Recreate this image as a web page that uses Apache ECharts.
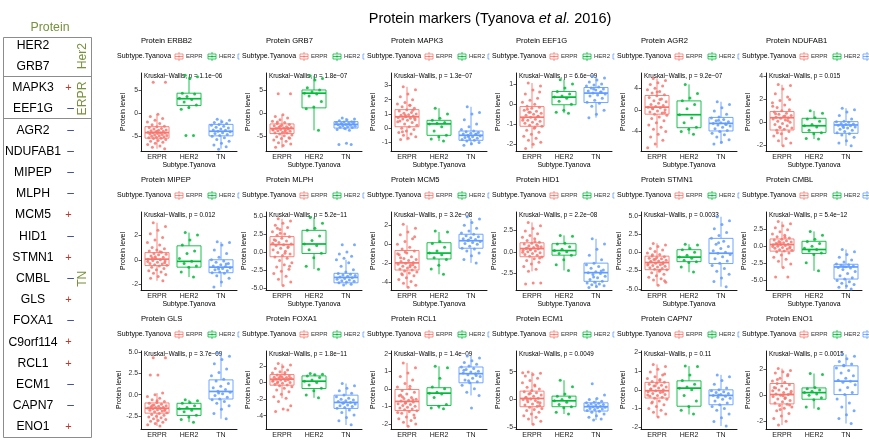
<!DOCTYPE html>
<html>
<head>
<meta charset="utf-8">
<script src="https://cdn.jsdelivr.net/npm/echarts@6/dist/echarts.min.js"></script>
<style>
  html, body { margin: 0; background: #fff; }
  #chart { width: 869px; height: 440px; }
</style>
</head>
<body>
<div id="chart"></div>
<script>
// subtypes and colours (ggplot defaults)
const subtypes = ['ERPR', 'HER2', 'TN']
const subtypeColors = ['#F8766D', '#00BA38', '#619CFF']

// panels, row by row
const proteins = ['ERBB2', 'GRB7', 'MAPK3', 'EEF1G', 'AGR2', 'NDUFAB1',
  'MIPEP', 'MLPH', 'MCM5', 'HID1', 'STMN1', 'CMBL',
  'GLS', 'FOXA1', 'RCL1', 'ECM1', 'CAPN7', 'ENO1']
const pLabels = ['1.1e\u221206', '1.8e\u221207', '1.3e\u221207', '6.6e\u221209', '9.2e\u221207', '0.015',
  '0.012', '5.2e\u221211', '3.2e\u221208', '2.2e\u221208', '0.0033', '5.4e\u221212',
  '3.7e\u221209', '1.8e\u221211', '1.4e\u221209', '0.0049', '0.11', '0.0015']

// y ranges and tick values per panel
const yMin = [-8.3, -8.3, -1.6, -2.33, -7.6, -2.5, -2.45, -5.3, -4.8, -4.4, -5.15, -6.4, -4.0, -5.6, -2.29, -5.3, -2.1, -2.6]
const yMax = [8.7, 8.7, 3.87, 1.55, 6.8, 4.3, 3.87, 5.55, 3.4, 4.6, 5.5, 5.0, 5.1, 3.8, 2.15, 8.7, 2.08, 3.4]
const yTicks = [
  [-5, 0, 5], [-5, 0, 5], [-1, 0, 1, 2, 3], [-2, -1, 0, 1], [-4, 0, 4], [-2, 0, 2, 4],
  [-2, 0, 2], [-5, -2.5, 0, 2.5, 5], [-4, -2, 0, 2], [-2.5, 0, 2.5], [-5, -2.5, 0, 2.5, 5], [-5, -2.5, 0, 2.5],
  [-2.5, 0, 2.5, 5], [-4, -2, 0, 2], [-2, -1, 0, 1, 2], [-5, 0, 5], [-2, -1, 0, 1, 2], [-2, 0, 2]
]

// box stats [lower whisker, q1, median, q3, upper whisker]
const erprBox = [
  [-7.8, -5.5, -4.3, -3.0, -0.3], [-7.6, -4.5, -3.4, -2.4, -0.4], [-0.85, 0.1, 0.8, 1.3, 2.9],
  [-2.2, -1.1, -0.65, -0.12, 1.05], [-7.0, -0.8, 0.5, 2.65, 5.8], [-2.05, -0.67, 0.4, 0.94, 3.27],
  [-1.7, -0.47, 0.05, 0.58, 3.0], [-4.67, -0.67, 1.02, 2.13, 4.6], [-4.5, -2.7, -1.95, -0.65, 2.0],
  [-2.25, -0.56, 0.38, 1.05, 3.4], [-4.5, -2.38, -1.4, -0.53, 1.23], [-3.1, -0.72, 0.24, 1.06, 3.6],
  [-3.65, -2.15, -1.58, -0.96, 0.19], [-1.9, -0.32, 0.4, 0.96, 2.28], [-2.13, -1.24, -0.72, -0.04, 1.47],
  [-4.46, -1.3, 0.18, 1.5, 4.95], [-1.46, -0.44, -0.05, 0.4, 1.36], [-2.3, -0.67, 0.05, 0.9, 2.05]
]
const her2Box = [
  [0.9, 1.6, 3.1, 4.3, 7.9], [-3.8, 1.1, 4.3, 5.0, 8.1], [-0.9, -0.5, 0.3, 0.55, 1.4],
  [-0.45, -0.03, 0.35, 0.63, 1.22], [-4.5, -3.3, -0.9, 1.65, 4.7], [-1.46, -0.88, -0.3, 0.35, 1.0],
  [-1.4, -0.6, -0.13, 1.13, 2.2], [-2.4, -0.22, 1.1, 3.0, 4.8], [-3.15, -1.54, -0.92, 0.17, 1.3],
  [-2.14, -0.38, 0.15, 0.94, 1.9], [-2.73, -1.28, -0.66, 0.35, 1.1], [-3.6, -1.06, -0.48, 0.72, 2.16],
  [-3.2, -2.42, -1.65, -1.0, -0.6], [-1.84, -0.72, 0.16, 0.8, 1.08], [-1.14, -0.95, -0.25, 0.06, 1.28],
  [-2.6, -1.3, -0.24, 0.6, 3.45], [-1.32, -0.88, 0.09, 0.48, 1.27], [-1.03, -0.31, 0.2, 0.56, 1.67]
]
const tnBox = [
  [-7.8, -5.0, -4.0, -2.5, -1.4], [-3.8, -3.3, -2.5, -1.9, -1.1], [-1.2, -0.85, -0.5, -0.2, 1.5],
  [-0.67, 0.08, 0.55, 0.83, 1.38], [-6.3, -3.9, -2.5, -1.4, 1.5], [-2.05, -0.96, -0.23, 0.06, 1.23],
  [-2.2, -1.05, -0.6, 0.0, 1.45], [-4.6, -4.3, -3.55, -2.98, -1.1], [-1.95, -0.41, 0.38, 1.06, 2.67],
  [-4.1, -3.4, -2.4, -1.3, 1.5], [-4.7, -1.54, -0.13, 1.9, 4.85], [-6.25, -4.8, -3.03, -2.64, -0.48],
  [-2.8, -0.5, 0.38, 1.73, 4.9], [-5.12, -3.12, -2.4, -1.52, -0.12], [-0.38, 0.34, 0.86, 1.24, 1.87],
  [-3.7, -2.08, -1.3, -0.6, 0.18], [-1.94, -0.8, -0.3, 0.0, 0.8], [-2.18, 0.05, 1.08, 2.26, 3.13]
]

// jittered points per panel
const erprPts = [
  [6.7, 6.7, -0.3, -0.8, -1.2, -1.6, -2.0, -2.3, -2.6, -2.9, -3.0, -3.2, -3.4, -3.5, -3.7, -3.8, -3.9, -4.0, -4.1, -4.2, -4.3, -4.3, -4.4, -4.5, -4.6, -4.7, -4.8, -4.9, -5.0, -5.1, -5.2, -5.3, -5.4, -5.5, -5.6, -5.8, -6.0, -6.2, -6.4, -6.6, -6.9, -7.2, -7.5, -7.8, -4.0],
  [4.2, 4.2, -0.4, -0.8, -1.1, -1.5, -1.8, -2.1, -2.3, -2.5, -2.7, -2.8, -3.0, -3.1, -3.2, -3.3, -3.4, -3.5, -3.6, -3.7, -3.8, -3.9, -4.0, -4.2, -4.3, -4.4, -4.6, -4.8, -5.0, -5.2, -5.4, -5.6, -5.9, -6.2, -6.5, -6.8, -7.1, -7.5, -3.3, -2.9, -3.6, -4.1, -2.0, -5.5],
  [2.9, 2.7, 2.4, 2.2, 2.0, 1.8, 1.7, 1.6, 1.5, 1.4, 1.3, 1.2, 1.1, 1.05, 1.0, 0.95, 0.9, 0.85, 0.8, 0.75, 0.7, 0.65, 0.6, 0.55, 0.5, 0.4, 0.3, 0.2, 0.1, 0.0, -0.1, -0.2, -0.3, -0.4, -0.5, -0.6, -0.7, -0.8, 1.25, 0.9, 0.45, 1.6, -0.25, 0.7],
  [1.05, 0.9, 0.7, 0.5, 0.3, 0.2, 0.1, 0.0, -0.1, -0.15, -0.2, -0.3, -0.35, -0.4, -0.45, -0.5, -0.55, -0.6, -0.65, -0.7, -0.75, -0.8, -0.85, -0.9, -0.95, -1.0, -1.05, -1.1, -1.2, -1.3, -1.4, -1.5, -1.6, -1.7, -1.8, -1.9, -2.0, -2.2, -0.6, -0.4, -0.8, -1.15, -0.25, 0.6],
  [5.8, 5.4, 5.0, 4.7, 4.4, 4.0, 3.7, 3.4, 3.1, 2.8, 2.6, 2.3, 2.0, 1.7, 1.5, 1.2, 1.0, 0.8, 0.6, 0.5, 0.4, 0.2, 0.0, -0.2, -0.4, -0.6, -0.8, -1.0, -1.3, -1.6, -2.0, -2.4, -2.8, -3.2, -3.6, -4.0, -4.5, -5.0, -5.6, -6.3, -7.0, 1.9, 0.3, -0.5, 3.3],
  [3.3, 3.2, 2.9, 2.5, 2.2, 1.9, 1.7, 1.5, 1.3, 1.1, 1.0, 0.9, 0.8, 0.7, 0.6, 0.5, 0.45, 0.4, 0.35, 0.3, 0.2, 0.1, 0.0, -0.1, -0.2, -0.3, -0.4, -0.5, -0.6, -0.7, -0.8, -1.0, -1.2, -1.4, -1.6, -1.8, -2.05, 0.75, 0.15, -0.45, 1.4, 0.55, -0.9, 2.0],
  [3.0, 2.7, 2.4, 2.1, 1.8, 1.6, 1.4, 1.2, 1.0, 0.9, 0.8, 0.7, 0.6, 0.5, 0.45, 0.4, 0.3, 0.2, 0.1, 0.05, 0.0, -0.05, -0.1, -0.2, -0.3, -0.35, -0.4, -0.45, -0.5, -0.6, -0.7, -0.8, -0.9, -1.0, -1.1, -1.2, -1.35, -1.5, -1.7, 0.25, -0.15, 0.65, 0.15, -0.25],
  [4.6, 4.3, 4.0, 3.7, 3.4, 3.1, 2.8, 2.5, 2.3, 2.1, 1.9, 1.7, 1.5, 1.3, 1.1, 1.0, 0.9, 0.7, 0.5, 0.3, 0.1, -0.1, -0.3, -0.5, -0.7, -0.9, -1.2, -1.5, -1.8, -2.1, -2.4, -2.7, -3.0, -3.4, -3.8, -4.2, -4.67, 1.6, 0.6, 2.6, 1.2, -0.2, 3.3, -2.0],
  [2.1, 1.7, 1.3, 1.0, 0.6, 0.3, 0.0, -0.3, -0.5, -0.7, -0.9, -1.1, -1.3, -1.5, -1.6, -1.7, -1.8, -1.9, -2.0, -2.1, -2.2, -2.3, -2.4, -2.5, -2.6, -2.7, -2.8, -2.9, -3.0, -3.1, -3.3, -3.5, -3.7, -3.9, -4.1, -4.3, -4.5, -1.4, -2.15, -0.8, -1.0, -2.35, -3.2, 0.8],
  [3.4, 3.0, 2.7, 2.4, 2.1, 1.9, 1.7, 1.5, 1.3, 1.1, 1.0, 0.9, 0.8, 0.7, 0.6, 0.5, 0.4, 0.35, 0.3, 0.2, 0.1, 0.0, -0.1, -0.2, -0.3, -0.4, -0.5, -0.6, -0.8, -1.0, -1.2, -1.4, -1.7, -2.0, -2.25, -3.6, -3.6, -3.7, 0.65, 0.25, -0.05, 1.2, 0.45, -0.7],
  [1.2, 1.0, 0.8, 0.5, 0.3, 0.1, -0.1, -0.3, -0.5, -0.6, -0.7, -0.8, -0.9, -1.0, -1.1, -1.2, -1.3, -1.4, -1.5, -1.6, -1.7, -1.8, -1.9, -2.0, -2.1, -2.2, -2.3, -2.4, -2.6, -2.8, -3.0, -3.2, -3.4, -3.6, -3.8, -4.1, -4.5, -1.25, -1.55, -0.95, -1.75, -2.45, -0.35, -3.9],
  [3.6, 3.3, 3.0, 2.7, 2.4, 2.1, 1.8, 1.6, 1.4, 1.2, 1.0, 0.9, 0.8, 0.7, 0.6, 0.5, 0.4, 0.3, 0.25, 0.2, 0.1, 0.0, -0.1, -0.2, -0.3, -0.4, -0.5, -0.6, -0.7, -0.8, -1.0, -1.3, -1.6, -1.9, -2.2, -2.6, -3.1, -4.5, -4.5, 0.55, -0.05, 1.3, 0.35, -0.25],
  [4.3, 4.3, 2.3, 2.3, 0.2, 0.0, -0.2, -0.4, -0.6, -0.8, -0.9, -1.0, -1.1, -1.2, -1.3, -1.35, -1.4, -1.45, -1.5, -1.55, -1.6, -1.65, -1.7, -1.75, -1.8, -1.9, -2.0, -2.1, -2.2, -2.3, -2.4, -2.5, -2.6, -2.7, -2.8, -2.9, -3.0, -3.1, -3.2, -3.35, -3.5, -3.65, -1.25, -1.85, -0.7],
  [2.28, 2.1, 1.9, 1.7, 1.5, 1.3, 1.15, 1.0, 0.9, 0.8, 0.7, 0.65, 0.6, 0.55, 0.5, 0.45, 0.4, 0.35, 0.3, 0.25, 0.2, 0.1, 0.0, -0.1, -0.2, -0.3, -0.4, -0.5, -0.7, -0.9, -1.1, -1.4, -1.7, -1.9, -2.3, -2.8, -3.2, -3.5, -3.3, 0.75, 0.15, 1.2, -0.05, 0.5],
  [1.47, 1.2, 0.9, 0.7, 0.5, 0.3, 0.1, 0.0, -0.1, -0.2, -0.3, -0.4, -0.5, -0.55, -0.6, -0.65, -0.7, -0.75, -0.8, -0.85, -0.9, -0.95, -1.0, -1.05, -1.1, -1.15, -1.2, -1.25, -1.3, -1.4, -1.5, -1.6, -1.7, -1.8, -1.9, -2.0, -2.13, -0.35, -0.62, -0.82, -1.35, 0.15, -0.45, -1.65],
  [4.95, 4.7, 4.5, 4.2, 3.8, 3.4, 3.0, 2.6, 2.2, 1.9, 1.6, 1.4, 1.2, 1.0, 0.8, 0.6, 0.4, 0.2, 0.1, 0.0, -0.2, -0.4, -0.6, -0.8, -1.0, -1.2, -1.4, -1.6, -1.8, -2.0, -2.3, -2.6, -2.9, -3.2, -3.5, -3.9, -4.46, 0.3, -0.5, 1.1, 4.8, 2.4, -0.05, -1.1],
  [1.36, 1.25, 1.1, 0.95, 0.8, 0.7, 0.6, 0.5, 0.45, 0.4, 0.35, 0.3, 0.25, 0.2, 0.15, 0.1, 0.05, 0.0, -0.05, -0.1, -0.15, -0.2, -0.25, -0.3, -0.35, -0.4, -0.45, -0.5, -0.6, -0.7, -0.8, -0.9, -1.0, -1.1, -1.2, -1.3, -1.46, 0.05, -0.12, 0.22, -0.28, 0.55, -0.65, 0.85],
  [2.05, 1.9, 1.8, 1.7, 1.5, 1.3, 1.1, 1.0, 0.9, 0.8, 0.7, 0.6, 0.5, 0.4, 0.3, 0.2, 0.1, 0.05, 0.0, -0.1, -0.2, -0.3, -0.4, -0.5, -0.6, -0.7, -0.8, -0.9, -1.0, -1.2, -1.4, -1.6, -1.8, -2.0, -2.3, 0.15, -0.05, 0.55, 1.6, -1.1, 0.35, -0.25, 1.2, -0.75]
]
const her2Pts = [
  [8.2, 7.9, 7.5, 4.3, 4.1, 3.6, 3.2, 2.9, 2.4, 1.7, 1.2, 0.8, -4.9, -4.9],
  [8.1, 7.5, 7.2, 5.5, 5.0, 4.6, 4.3, 4.1, 3.7, 2.5, 1.3, 0.9, -3.8],
  [1.4, 1.0, 0.7, 0.55, 0.4, 0.35, 0.3, 0.1, -0.2, -0.5, -0.6, -0.75, -0.9],
  [1.22, 1.0, 0.8, 0.63, 0.5, 0.4, 0.35, 0.3, 0.15, 0.0, -0.3, -0.4, -0.45],
  [4.7, 3.0, 2.2, 1.7, 1.0, 0.2, -0.9, -1.5, -2.4, -3.2, -3.6, -4.0, -4.5],
  [1.0, 0.8, 0.4, 0.3, 0.1, -0.2, -0.3, -0.4, -0.7, -0.9, -1.0, -1.4, -1.46],
  [2.2, 2.0, 1.6, 1.2, 0.7, 0.5, 0.1, -0.13, -0.3, -0.5, -0.6, -1.0, -1.4],
  [4.8, 4.0, 3.3, 3.0, 2.2, 1.6, 1.1, 0.9, 0.3, -0.2, -0.8, -2.0, -2.4],
  [1.4, 1.3, 0.3, 0.1, -0.3, -0.7, -0.92, -1.1, -1.4, -1.6, -2.2, -2.6, -3.15],
  [1.9, 1.8, 1.0, 0.9, 0.6, 0.3, 0.15, 0.0, -0.2, -0.4, -0.9, -1.5, -2.14],
  [1.1, 1.0, 0.5, 0.35, 0.0, -0.4, -0.66, -0.8, -1.1, -1.3, -1.4, -2.0, -2.7],
  [2.16, 1.6, 1.0, 0.7, 0.4, 0.0, -0.3, -0.48, -0.7, -1.0, -1.2, -2.4, -3.6],
  [-0.6, -0.7, -0.9, -1.0, -1.3, -1.5, -1.65, -1.8, -2.0, -2.4, -2.6, -2.9, -3.2],
  [1.1, 1.0, 0.95, 0.8, 0.6, 0.3, 0.16, 0.0, -0.3, -0.7, -1.0, -1.5, -1.84],
  [1.28, 1.2, 0.6, 0.1, 0.0, -0.2, -0.25, -0.3, -0.5, -0.9, -1.0, -1.1, -1.14],
  [3.45, 2.3, 1.0, 0.6, 0.4, 0.0, -0.24, -0.5, -0.9, -1.3, -1.5, -2.3, -2.6],
  [1.27, 1.25, 0.8, 0.5, 0.3, 0.15, 0.09, 0.0, -0.3, -0.6, -0.9, -1.1, -1.3],
  [1.67, 1.6, 0.6, 0.5, 0.4, 0.3, 0.2, 0.1, 0.0, -0.2, -0.35, -0.9, -1.03]
]
const tnPts = [
  [-1.4, -1.6, -1.9, -2.1, -2.3, -2.5, -2.7, -2.9, -3.1, -3.3, -3.5, -3.7, -3.8, -4.0, -4.1, -4.3, -4.5, -4.7, -4.9, -5.1, -5.4, -5.8, -6.2, -6.6, -7.0, -7.4, -7.9],
  [-1.1, -1.3, -1.5, -1.7, -1.9, -2.0, -2.1, -2.2, -2.3, -2.4, -2.5, -2.6, -2.7, -2.8, -2.9, -3.0, -3.1, -3.2, -3.4, -3.6, -3.8, -2.4, -2.0, -6.6, -6.9, -6.9],
  [1.5, 1.1, 1.0, 0.6, 0.3, 0.1, -0.1, -0.2, -0.25, -0.3, -0.35, -0.4, -0.45, -0.5, -0.55, -0.6, -0.65, -0.7, -0.75, -0.8, -0.85, -0.9, -1.0, -1.1, -1.2, -0.4, -0.6],
  [1.38, 1.3, 1.2, 1.1, 1.0, 0.95, 0.9, 0.85, 0.8, 0.75, 0.7, 0.65, 0.6, 0.55, 0.5, 0.45, 0.4, 0.3, 0.2, 0.1, 0.05, -0.1, -0.3, -0.5, -0.67, 0.6, 0.75],
  [1.5, 1.0, 0.4, -0.2, -0.8, -1.3, -1.5, -1.8, -2.0, -2.2, -2.4, -2.5, -2.6, -2.8, -3.0, -3.2, -3.5, -3.8, -4.0, -4.3, -4.6, -5.0, -5.5, -6.0, -6.3, -2.7, -1.9],
  [1.23, 1.1, 0.9, 0.6, 0.3, 0.1, 0.05, 0.0, -0.1, -0.15, -0.2, -0.25, -0.3, -0.35, -0.4, -0.5, -0.6, -0.7, -0.8, -0.9, -1.0, -1.1, -1.3, -1.6, -1.8, -2.05, -0.45],
  [1.45, 1.4, 1.2, 0.8, 0.5, 0.2, 0.0, -0.1, -0.2, -0.3, -0.4, -0.5, -0.55, -0.6, -0.65, -0.7, -0.8, -0.9, -1.0, -1.05, -1.1, -1.3, -1.5, -1.8, -2.2, -0.35, -0.75],
  [1.0, 1.0, 0.0, -0.3, -0.6, -0.9, -1.1, -1.5, -2.0, -2.5, -2.8, -3.0, -3.1, -3.2, -3.3, -3.4, -3.5, -3.6, -3.7, -3.8, -3.9, -4.0, -4.1, -4.2, -4.3, -4.5, -4.6],
  [2.9, 2.67, 2.3, 2.0, 1.7, 1.4, 1.2, 1.06, 0.9, 0.8, 0.7, 0.6, 0.5, 0.4, 0.3, 0.2, 0.1, 0.0, -0.2, -0.4, -0.5, -0.7, -0.9, -1.2, -1.6, -1.95, 0.45],
  [1.5, 0.9, 0.3, -0.4, -0.9, -1.3, -1.5, -1.7, -1.9, -2.1, -2.3, -2.4, -2.5, -2.6, -2.8, -3.0, -3.2, -3.4, -3.5, -3.6, -3.7, -3.8, -3.9, -4.0, -4.1, -2.2, -2.9],
  [4.85, 4.3, 3.8, 3.2, 2.7, 2.3, 1.9, 1.5, 1.1, 0.8, 0.5, 0.2, 0.0, -0.13, -0.3, -0.6, -0.9, -1.2, -1.5, -1.8, -2.2, -2.6, -3.0, -3.5, -4.0, -4.7, 1.3],
  [-0.48, -0.8, -1.2, -1.6, -2.0, -2.3, -2.6, -2.7, -2.8, -2.9, -3.0, -3.1, -3.2, -3.4, -3.7, -4.0, -4.3, -4.6, -4.8, -5.0, -5.2, -5.4, -5.6, -5.8, -6.0, -6.25, -2.95],
  [4.9, 4.5, 4.1, 3.6, 3.0, 2.6, 2.2, 1.8, 1.6, 1.3, 1.0, 0.8, 0.6, 0.4, 0.3, 0.1, -0.1, -0.3, -0.5, -0.6, -0.8, -1.0, -1.3, -1.7, -2.2, -2.8, 0.2],
  [-0.12, -0.4, -0.7, -1.0, -1.3, -1.5, -1.7, -1.9, -2.0, -2.1, -2.2, -2.3, -2.4, -2.5, -2.6, -2.7, -2.8, -2.9, -3.0, -3.1, -3.3, -3.6, -3.9, -4.2, -4.6, -5.1, -2.45],
  [1.87, 1.75, 1.6, 1.5, 1.4, 1.3, 1.24, 1.15, 1.1, 1.0, 0.95, 0.9, 0.86, 0.8, 0.7, 0.6, 0.5, 0.4, 0.34, 0.2, 0.0, -0.2, -0.38, -1.1, 1.05, 0.75, 0.45],
  [2.8, 0.8, 0.18, 0.0, -0.3, -0.5, -0.6, -0.7, -0.8, -0.9, -1.0, -1.1, -1.2, -1.3, -1.4, -1.5, -1.6, -1.7, -1.8, -2.0, -2.1, -2.3, -2.6, -2.9, -3.2, -3.5, -3.7],
  [0.8, 0.7, 0.5, 0.3, 0.1, 0.0, -0.05, -0.1, -0.15, -0.2, -0.25, -0.3, -0.35, -0.4, -0.45, -0.5, -0.6, -0.7, -0.8, -0.9, -1.0, -1.1, -1.3, -1.5, -1.7, -1.94, -0.28],
  [3.13, 3.0, 2.8, 2.6, 2.4, 2.26, 2.1, 1.9, 1.7, 1.5, 1.3, 1.15, 1.08, 1.0, 0.8, 0.6, 0.4, 0.2, 0.05, -0.3, -0.6, -0.9, -1.2, -1.5, -1.8, -2.18, 2.3]
]

// left-hand marker table
const tableProteins = ['HER2', 'GRB7', 'MAPK3', 'EEF1G', 'AGR2', 'NDUFAB1', 'MIPEP', 'MLPH', 'MCM5', 'HID1',
  'STMN1', 'CMBL', 'GLS', 'FOXA1', 'C9orf114', 'RCL1', 'ECM1', 'CAPN7', 'ENO1']
const tableSigns = ['', '', '+', '\u2013', '\u2013', '\u2013', '\u2013', '\u2013', '+', '\u2013',
  '+', '\u2013', '+', '\u2013', '+', '+', '\u2013', '\u2013', '+']
const tableGroups = [['Her2', 0, 1], ['ERPR', 2, 3], ['TN', 4, 18]]

const FONT = 'Liberation Sans, Arial, Helvetica, sans-serif'
const OLIVE = '#76923C'

const chart = echarts.init(document.getElementById('chart'), null, { renderer: 'canvas' })

// deterministic horizontal jitter (layout only)
const jit = j => (((j * 0.618034 + 0.31) % 1) - 0.5) * 0.62

function renderBox(params, api) {
  const i = api.value(0)
  const pLow = api.coord([i, api.value(1)])
  const pQ1 = api.coord([i, api.value(2)])
  const pMed = api.coord([i, api.value(3)])
  const pQ3 = api.coord([i, api.value(4)])
  const pHigh = api.coord([i, api.value(5)])
  const w = api.size([1, 0])[0] * 0.75
  const x0 = pMed[0] - w / 2
  const col = subtypeColors[i]
  const ln = { stroke: col, lineWidth: 0.9 }
  return {
    type: 'group',
    children: [
      { type: 'line', shape: { x1: pMed[0], y1: pHigh[1], x2: pMed[0], y2: pQ3[1] }, style: ln },
      { type: 'line', shape: { x1: pMed[0], y1: pQ1[1], x2: pMed[0], y2: pLow[1] }, style: ln },
      { type: 'rect', shape: { x: x0, y: pQ3[1], width: w, height: pQ1[1] - pQ3[1] }, style: { fill: '#fff', stroke: col, lineWidth: 0.9 } },
      { type: 'line', shape: { x1: x0, y1: pMed[1], x2: x0 + w, y2: pMed[1] }, style: { stroke: col, lineWidth: 1.7 } }
    ]
  }
}

function legendIcon(x, y, col) {
  return [
    { type: 'rect', shape: { x: x, y: y - 2.5, width: 8, height: 5 }, style: { fill: '#fff', stroke: col, lineWidth: 0.8 } },
    { type: 'line', shape: { x1: x, y1: y, x2: x + 8, y2: y }, style: { stroke: col, lineWidth: 0.8 } },
    { type: 'line', shape: { x1: x + 4, y1: y - 4.5, x2: x + 4, y2: y - 2.5 }, style: { stroke: col, lineWidth: 0.8 } },
    { type: 'line', shape: { x1: x + 4, y1: y + 2.5, x2: x + 4, y2: y + 4.5 }, style: { stroke: col, lineWidth: 0.8 } },
    { type: 'circle', shape: { cx: x + 4, cy: y, r: 1.1 }, style: { fill: col } }
  ]
}

function txt(x, y, text, size, opts = {}) {
  return {
    type: 'text', x, y, silent: true, rotation: opts.rotation || 0,
    style: {
      text, fontSize: size, fontFamily: FONT, fill: opts.fill || '#000',
      align: opts.align || 'left', verticalAlign: 'middle',
      textAlign: opts.align || 'left', textVerticalAlign: 'middle',
      fontStyle: opts.italic ? 'italic' : 'normal'
    }
  }
}

const grids = [], xAxes = [], yAxes = [], series = [], graphics = []

proteins.forEach((name, k) => {
  const c = k % 6, r = Math.floor(k / 6)
  const left = 141 + 125 * c, top = 73 + 139 * r
  grids.push({ left, top, width: 96, height: 78, outerBoundsMode: 'none', containLabel: false })

  xAxes.push({
    gridIndex: k, type: 'category', data: subtypes,
    axisLine: { onZero: false, lineStyle: { color: '#000', width: 0.9 } },
    axisTick: { alignWithLabel: true, length: 2.5, lineStyle: { color: '#333', width: 0.8 } },
    axisLabel: { fontSize: 7, color: '#1a1a1a', margin: 3, fontFamily: FONT },
    name: 'Subtype.Tyanova', nameLocation: 'middle', nameGap: 10,
    nameTextStyle: { fontSize: 6.9, color: '#000', fontFamily: FONT }
  })
  xAxes.push({ gridIndex: k, type: 'value', min: -0.5, max: 2.5, show: false })

  const dec = yTicks[k].some(t => t % 1 !== 0)
  yAxes.push({
    gridIndex: k, type: 'value', min: yMin[k], max: yMax[k],
    splitLine: { show: false },
    axisLine: { show: true, onZero: false, lineStyle: { color: '#000', width: 0.9 } },
    axisTick: { show: true, length: 2.5, customValues: yTicks[k], lineStyle: { color: '#333', width: 0.8 } },
    axisLabel: {
      customValues: yTicks[k], fontSize: 6.9, color: '#333', margin: 3, fontFamily: FONT,
      formatter: v => (dec ? Number(v).toFixed(1) : String(v))
    },
    name: 'Protein level', nameLocation: 'middle', nameGap: dec ? 16.5 : 14, nameRotate: 90,
    nameTextStyle: { fontSize: 6.9, color: '#000', fontFamily: FONT }
  })

  series.push({
    type: 'custom', xAxisIndex: 2 * k, yAxisIndex: k, silent: true,
    renderItem: renderBox,
    encode: { x: 0, y: [1, 2, 3, 4, 5] },
    data: [[0, ...erprBox[k]], [1, ...her2Box[k]], [2, ...tnBox[k]]]
  })
  ;[erprPts[k], her2Pts[k], tnPts[k]].forEach((pts, g) => {
    series.push({
      type: 'scatter', xAxisIndex: 2 * k + 1, yAxisIndex: k, silent: true,
      symbolSize: 3, itemStyle: { color: subtypeColors[g], opacity: 0.85 },
      data: pts.map((v, j) => [g + jit(j), v])
    })
  })

  // panel title, legend, test label
  graphics.push(txt(left, top - 32.5, 'Protein ' + name, 7.6))
  const ly = top - 16.5
  graphics.push(txt(left - 24, ly, 'Subtype.Tyanova', 7))
  graphics.push(...legendIcon(left + 34, ly, subtypeColors[0]))
  graphics.push(txt(left + 45, ly, 'ERPR', 6, { fill: '#333' }))
  graphics.push(...legendIcon(left + 67, ly, subtypeColors[1]))
  graphics.push(txt(left + 78, ly, 'HER2', 6, { fill: '#333' }))
  if (c === 5) {
    graphics.push(...legendIcon(left + 97, ly, subtypeColors[2]))
  } else {
    graphics.push({ type: 'polyline', shape: { points: [[left + 98.5, ly - 2.5], [left + 97, ly - 2.5], [left + 97, ly + 2.5], [left + 98.5, ly + 2.5]] }, style: { stroke: subtypeColors[2], fill: null, lineWidth: 0.8 } })
  }
  graphics.push(txt(left + 3, top + 3, 'Kruskal\u2212Wallis, p = ' + pLabels[k], 6.3))
})

// main title
graphics.push({
  type: 'text', x: 490, y: 19, silent: true,
  style: {
    text: '{n|Protein markers (Tyanova }{i|et al.}{n| 2016)}',
    align: 'center', verticalAlign: 'middle', textAlign: 'center', textVerticalAlign: 'middle',
    rich: {
      n: { fontSize: 14.5, fontFamily: FONT, fill: '#000' },
      i: { fontSize: 14.5, fontFamily: FONT, fill: '#000', fontStyle: 'italic' }
    }
  }
})

// left table
const rowY = i => 45.5 + 21.2 * i
graphics.push(txt(50, 28, 'Protein', 12.3, { align: 'center', fill: OLIVE }))
graphics.push({ type: 'rect', shape: { x: 3.5, y: 37.5, width: 88, height: 400 }, style: { fill: null, stroke: '#8c8c8c', lineWidth: 1 } })
graphics.push({ type: 'line', shape: { x1: 3.5, y1: 76.5, x2: 91.5, y2: 76.5 }, style: { stroke: '#8c8c8c', lineWidth: 1 } })
graphics.push({ type: 'line', shape: { x1: 3.5, y1: 118.5, x2: 91.5, y2: 118.5 }, style: { stroke: '#8c8c8c', lineWidth: 1 } })
tableProteins.forEach((p, i) => {
  graphics.push(txt(33, rowY(i), p, 12.2, { align: 'center' }))
  if (tableSigns[i] === '+') graphics.push(txt(68.5, rowY(i), '+', 11, { align: 'center', fill: '#C0392B' }))
  else if (tableSigns[i]) graphics.push(txt(70.5, rowY(i), '\u2013', 12, { align: 'center', fill: '#2B3A8C' }))
})
tableGroups.forEach(([label, a, b]) => {
  graphics.push(txt(83, (rowY(a) + rowY(b)) / 2, label, 12.2, { align: 'center', fill: OLIVE, rotation: Math.PI / 2 }))
})

chart.setOption({
  animation: false,
  backgroundColor: '#fff',
  textStyle: { fontFamily: FONT },
  grid: grids,
  xAxis: xAxes,
  yAxis: yAxes,
  series,
  graphic: { elements: graphics }
})
</script>
</body>
</html>
